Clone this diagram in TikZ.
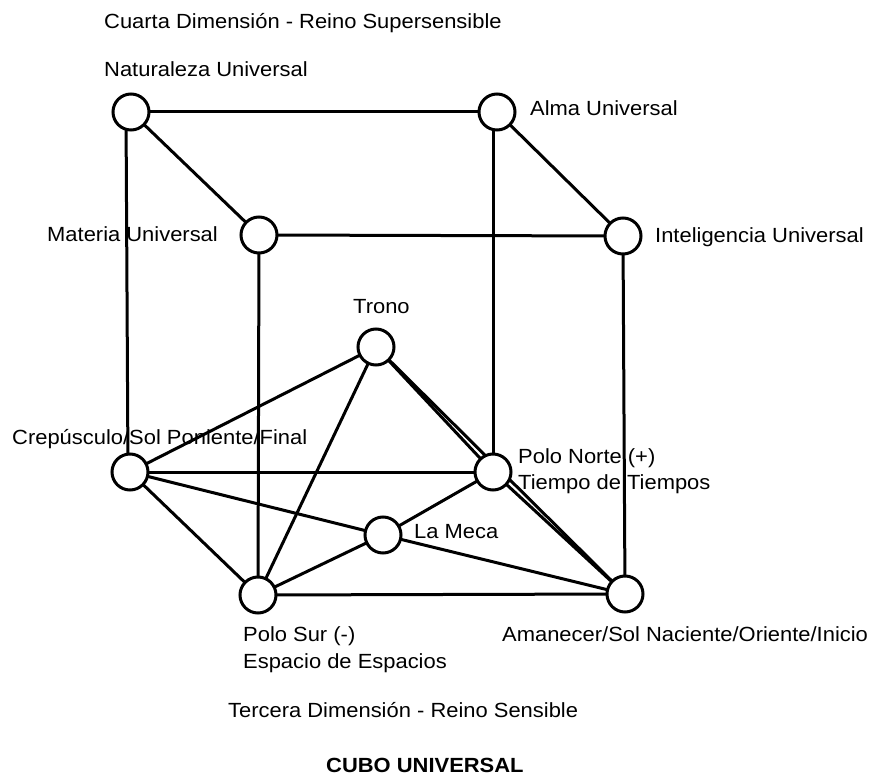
\documentclass[tikz,border=0pt]{standalone}
\usepackage{fontspec}
\setmainfont[FakeStretch=1.07]{Liberation Sans}
\begin{document}
\begin{tikzpicture}[x=1pt,y=-1pt,
  vtx/.style={circle,draw=black,fill=white,line width=3pt,minimum size=36pt,inner sep=0pt},
  lbl/.style={anchor=base west,inner sep=0pt,font=\fontsize{20.5}{26}\selectfont},
  edge/.style={line width=3pt,black}]
\useasboundingbox (0,0) rectangle (879,776);
% labels (drawn first, lines pass over them)
\node[lbl] (tCuarta) at (104,29) {Cuarta Dimensión - Reino Supersensible};
\node[lbl] (tNat) at (104,77) {Naturaleza Universal};
\node[lbl] (tAlma) at (530,115) {Alma Universal};
\node[lbl] (tMat) at (47,241) {Materia Universal};
\node[lbl] (tInt) at (655,242) {Inteligencia Universal};
\node[lbl] (tTrono) at (353,313) {Trono};
\node[lbl] (tCrep) at (12,444) {Crepúsculo/Sol Poniente/Final};
\node[lbl] (tPN1) at (518,463) {Polo Norte (+)};
\node[lbl] (tPN2) at (518,489) {Tiempo de Tiempos};
\node[lbl] (tMeca) at (414,538) {La Meca};
\node[lbl] (tPS1) at (243,641) {Polo Sur (-)};
\node[lbl] (tPS2) at (243,668) {Espacio de Espacios};
\node[lbl] (tAm) at (502,641) {Amanecer/Sol Naciente/Oriente/Inicio};
\node[lbl] (tTer) at (228,717) {Tercera Dimensión - Reino Sensible};
\node[lbl,font=\fontsize{20.5}{26}\selectfont\bfseries] (tCubo) at (326,772) {CUBO UNIVERSAL};
% vertex positions
\coordinate (cNat) at (131,112);
\coordinate (cAlma) at (497,112);
\coordinate (cMat) at (259,235);
\coordinate (cInt) at (623,236);
\coordinate (cTrono) at (376,347);
\coordinate (cCrep) at (130,472);
\coordinate (cPN) at (493,472);
\coordinate (cMeca) at (383,535);
\coordinate (cPS) at (258,595);
\coordinate (cAm) at (625,594);
% edges
\draw[edge] (cNat) -- (cAlma);
\draw[edge] (cNat) -- (cMat);
\draw[edge] ([xshift=-5pt]cNat) -- ([xshift=-2pt]cCrep);
\draw[edge] (cAlma) -- (cInt);
\draw[edge] ([xshift=-4pt]cAlma) -- (cPN);
\draw[edge] (cMat) -- (cInt);
\draw[edge] (cMat) -- (cPS);
\draw[edge] (cInt) -- (cAm);
\draw[edge] (cTrono) -- (cCrep);
\draw[edge] (cTrono) -- (cPS);
\draw[edge] (cTrono) -- (cPN);
\draw[edge] (cTrono) -- (cAm);
\draw[edge] (cPN) -- (cAm);
\draw[edge] (cCrep) -- (cPN);
\draw[edge] (cCrep) -- (cMeca);
\draw[edge] (cCrep) -- (cPS);
\draw[edge] (cMeca) -- (cAm);
\draw[edge] (cMeca) -- (cPN);
\draw[edge] (cMeca) -- (cPS);
\draw[edge] (cPS) -- (cAm);
% vertices
\node[vtx] (Nat) at (cNat) {};
\node[vtx] (Alma) at (cAlma) {};
\node[vtx] (Mat) at (cMat) {};
\node[vtx] (Int) at (cInt) {};
\node[vtx] (Trono) at (cTrono) {};
\node[vtx] (Crep) at (cCrep) {};
\node[vtx] (PN) at (cPN) {};
\node[vtx] (Meca) at (cMeca) {};
\node[vtx] (PS) at (cPS) {};
\node[vtx] (Am) at (cAm) {};
\end{tikzpicture}
\end{document}
